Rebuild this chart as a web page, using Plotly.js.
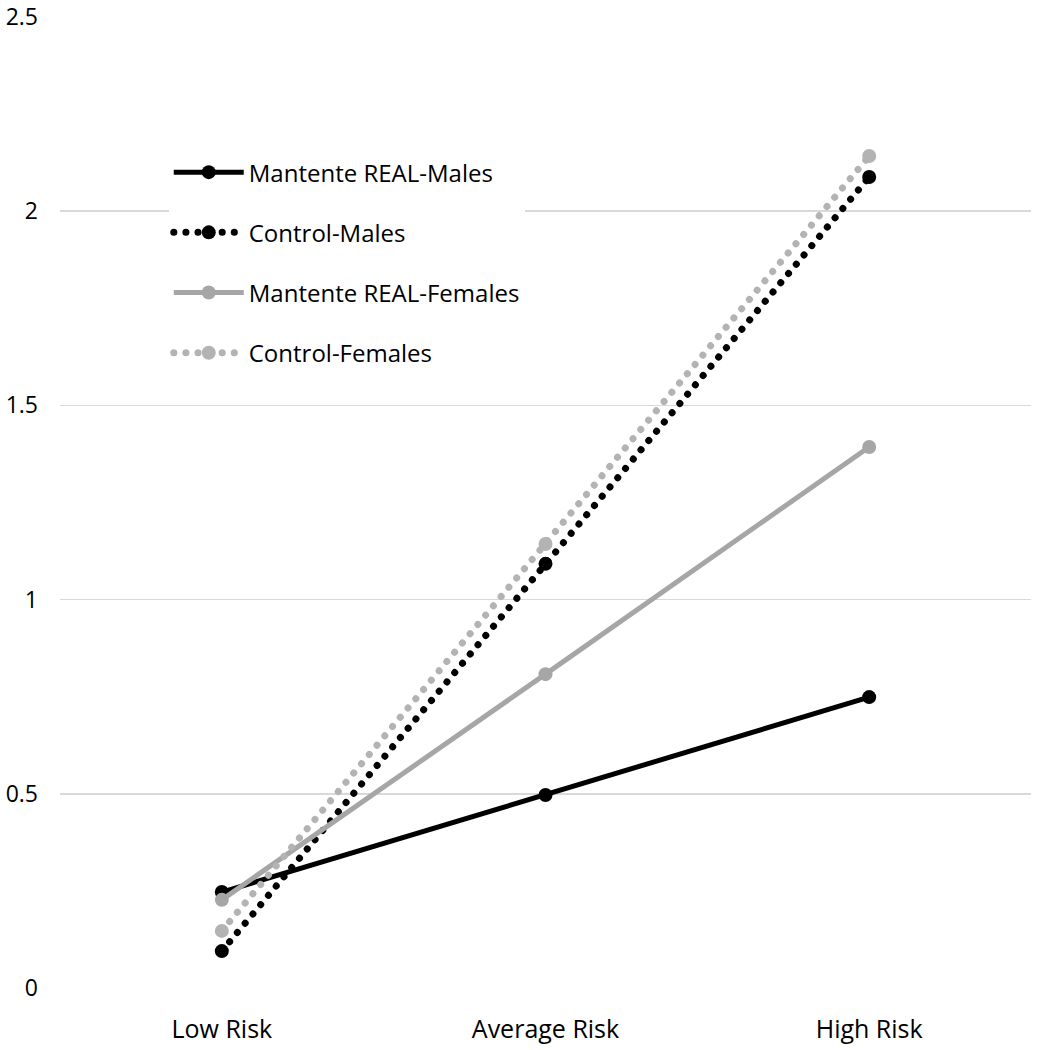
<!DOCTYPE html>
<html>
<head>
<meta charset="utf-8">
<script src="https://cdn.plot.ly/plotly-3.0.1.min.js"></script>
<style>
  body { margin: 0; background: #fff; }
  #chart { width: 1040px; height: 1050px; }
  .dotted .js-line { stroke-linecap: round; }
</style>
</head>
<body>
<div id="chart"></div>
<script>
const riskLevels = ['Low Risk', 'Average Risk', 'High Risk'];
const mantenteMales = [0.247, 0.497, 0.749];
const controlMales = [0.095, 1.092, 2.088];
const mantenteFemales = [0.227, 0.808, 1.393];
const controlFemales = [0.147, 1.143, 2.142];

const black = '#000000';
const grey = '#a6a6a6';
const lightGrey = '#b3b3b3';

function makeTrace(name, values, color, dotted) {
    return {
        x: riskLevels,
        y: values,
        name: name,
        legendgroup: name,
        type: 'scatter',
        mode: 'lines+markers',
        line: dotted
            ? { color: color, width: 7, dash: '0.1px,12px' }
            : { color: color, width: 5 },
        marker: { color: color, size: 14 }
    };
}

const traces = [
    makeTrace('Mantente REAL-Males', mantenteMales, black, false),
    makeTrace('Control-Males', controlMales, black, true),
    makeTrace('Mantente REAL-Females', mantenteFemales, grey, false),
    makeTrace('Control-Females', controlFemales, lightGrey, true)
];

const layout = {
    width: 1040,
    height: 1050,
    margin: { l: 60, r: 9, t: 17, b: 62 },
    paper_bgcolor: '#ffffff',
    plot_bgcolor: '#ffffff',
    font: { family: 'Open Sans, sans-serif', color: '#000000' },
    showlegend: true,
    legend: {
        x: 0.112,
        y: 0.863,
        xanchor: 'left',
        yanchor: 'top',
        bgcolor: '#ffffff',
        font: { size: 24, family: 'Open Sans, sans-serif', color: '#000000' },
        traceorder: 'grouped',
        tracegroupgap: 26,
        itemwidth: 70
    },
    xaxis: {
        type: 'category',
        range: [-0.5, 2.5],
        showgrid: false,
        zeroline: false,
        showline: false,
        ticks: '',
        ticklabelstandoff: 24,
        tickfont: { size: 25, color: '#000000' }
    },
    yaxis: {
        range: [0, 2.5],
        dtick: 0.5,
        gridcolor: '#d9d9d9',
        gridwidth: 1.5,
        zeroline: false,
        showline: false,
        ticks: '',
        ticklabelstandoff: 21,
        tickfont: { size: 23, color: '#000000' }
    }
};

Plotly.newPlot('chart', traces, layout, { displayModeBar: false, staticPlot: true }).then(function () {
    // round caps for the dotted series so the dashes look like dots
    const groups = document.querySelectorAll('.scatterlayer .trace, .legend .traces');
    groups.forEach(function (g, i) {
        const idx = i % 4;
        if (idx === 1 || idx === 3) g.classList.add('dotted');
    });
});
</script>
</body>
</html>
